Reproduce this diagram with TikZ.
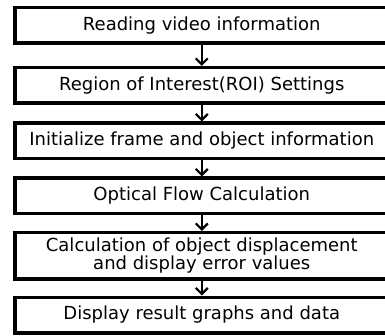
\documentclass[tikz,border=0pt]{standalone}
\usepackage{fontspec}
\setmainfont{DejaVu Sans}
\usetikzlibrary{arrows.meta, positioning}

\begin{document}
\begin{tikzpicture}[x=1pt, y=-1pt,
    stepbox/.style={draw, line width=3.5pt, minimum width=374pt, minimum height=35.5pt,
        inner sep=0pt, align=center, font=\fontsize{18}{19}\selectfont},
    flowarrow/.style={line width=2.2pt, -{Straight Barb[length=6pt, width=12pt]}}]
    \useasboundingbox (0,0) rectangle (385,336);

    % Process steps
    \node[stepbox] (read)   at (201.75,25.5) {Reading video information};
    \node[stepbox] (roi)    at (201.75,85.5) {Region of Interest(ROI) Settings};
    \node[stepbox] (init)   at (201.75,141)  {Initialize frame and object information};
    \node[stepbox] (flow)   at (201.75,196)  {Optical Flow Calculation};
    \node[stepbox, minimum height=46.5pt] (calc) at (201.75,256)
        {Calculation of object displacement\\[-1pt]and display error values};
    \node[stepbox] (result) at (201.75,315)  {Display result graphs and data};

    % Arrows between steps
    \foreach \a/\b in {read/roi, roi/init, init/flow, flow/calc, calc/result}
        \draw[flowarrow] (\a) -- (\b);
\end{tikzpicture}
\end{document}
